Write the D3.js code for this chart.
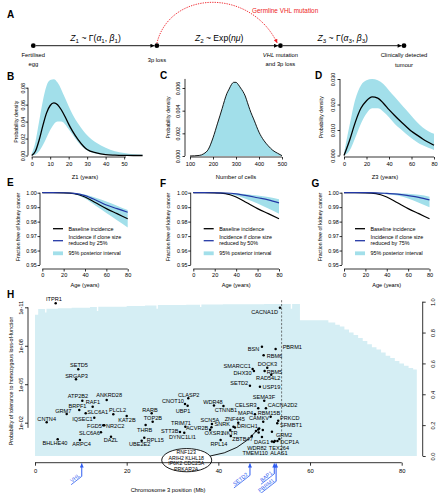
<!DOCTYPE html>
<html>
<head>
<meta charset="utf-8">
<script src="https://cdn.jsdelivr.net/npm/d3@7"></script>
<style>
body { margin: 0; background: #fff; }
svg { display: block; }
</style>
</head>
<body>
<svg id="fig" width="439" height="493"></svg>
<script>
// ---------- panel A : model stages
const stageLines = [["Fertilised", "egg"], ["3p loss"], ["*VHL* mutation", "and 3p loss"], ["Clinically detected", "tumour"]];
const stageFormulas = [
    [["Z", "i"], ["1", "s"], [" ~ Γ(", ""], ["α", "i"], ["1", "s"], [", ", ""], ["β", "i"], ["1", "s"], [")", ""]],
    [["Z", "i"], ["2", "s"], [" ~ Exp(", ""], ["nμ", "i"], [")", ""]],
    [["Z", "i"], ["3", "s"], [" ~ Γ(", ""], ["α", "i"], ["3", "s"], [", ", ""], ["β", "i"], ["3", "s"], [")", ""]]
];
const germlineText = "Germline VHL mutation";

// ---------- panel B : Z1 density
const bYears = [0, 2, 4, 6, 8, 10, 12, 14, 16, 18, 20, 22, 25, 28, 30, 35, 40, 45, 50, 55, 60];
const bMean  = [0, 0.005, 0.018, 0.035, 0.050, 0.059, 0.062, 0.060, 0.054, 0.046, 0.037, 0.029, 0.019, 0.011, 0.007, 0.003, 0.001, 0.0004, 0.0001, 0, 0];
const bHigh  = [0.002, 0.016, 0.040, 0.064, 0.082, 0.089, 0.090, 0.086, 0.078, 0.068, 0.058, 0.049, 0.038, 0.029, 0.024, 0.015, 0.009, 0.005, 0.003, 0.0015, 0.001];
const bLow   = [0, 0.001, 0.005, 0.012, 0.021, 0.030, 0.037, 0.040, 0.040, 0.037, 0.031, 0.025, 0.016, 0.009, 0.006, 0.002, 0.0006, 0.0002, 0, 0, 0];
const bXTicks = [0, 10, 20, 30, 40, 50];
const bYTicks = [0, 0.02, 0.04, 0.06, 0.08];

// ---------- panel C : number of cells
const cCells = [100, 140, 160, 180, 200, 220, 240, 250, 260, 270, 280, 290, 300, 310, 320, 330, 340, 350, 360, 380, 400, 420, 440, 460, 480, 500];
const cDens  = [0, 0.00005, 0.0002, 0.0006, 0.0016, 0.0029, 0.0042, 0.0049, 0.0055, 0.0059, 0.0063, 0.0065, 0.0065, 0.0063, 0.0060, 0.0057, 0.0053, 0.0047, 0.0041, 0.0031, 0.0021, 0.0014, 0.0009, 0.0005, 0.00025, 0.00003];
const cXTicks = [100, 200, 300, 400, 500];
const cYTicks = [0, 0.002, 0.004, 0.006];

// ---------- panel D : Z3 density
const dYears = [0, 5, 10, 15, 20, 25, 30, 35, 40, 45, 50, 55, 60, 65, 70, 75, 80];
const dMean  = [0, 0.006, 0.013, 0.0185, 0.0215, 0.023, 0.0225, 0.0205, 0.018, 0.0157, 0.0135, 0.0115, 0.0095, 0.008, 0.0065, 0.0052, 0.004];
const dHigh  = [0.001, 0.012, 0.022, 0.0275, 0.0295, 0.030, 0.0295, 0.028, 0.0255, 0.023, 0.0205, 0.018, 0.0155, 0.013, 0.011, 0.0095, 0.0085];
const dLow   = [0, 0.002, 0.007, 0.0125, 0.0165, 0.0185, 0.0185, 0.0172, 0.015, 0.0125, 0.0105, 0.0085, 0.0068, 0.0052, 0.004, 0.003, 0.0022];
const dXTicks = [0, 20, 40, 60, 80];
const dYTicks = [0, 0.01, 0.02, 0.03];

// ---------- panels E-G : fraction free of kidney cancer
const ages = [0, 10, 20, 30, 40, 50, 60, 70, 80];
const baseline = [1, 1, 0.9999, 0.9994, 0.997, 0.993, 0.989, 0.9855, 0.982];
const eReduced = [1, 1, 0.99995, 0.9996, 0.998, 0.995, 0.9915, 0.989, 0.9865];
const eHigh    = [1, 1, 1, 0.9998, 0.9988, 0.9965, 0.994, 0.991, 0.988];
const eLow     = [1, 1, 0.9998, 0.999, 0.996, 0.991, 0.986, 0.981, 0.976];
const fReduced = [1, 1, 0.99995, 0.9998, 0.9992, 0.998, 0.9965, 0.995, 0.993];
const fHigh    = [1, 1, 1, 1, 0.9996, 0.999, 0.998, 0.997, 0.9955];
const fLow     = [1, 1, 0.9999, 0.9993, 0.998, 0.9955, 0.9925, 0.989, 0.9855];
const gReduced = [1, 1, 1, 0.9999, 0.9995, 0.999, 0.998, 0.9968, 0.995];
const gHigh    = [1, 1, 1, 1, 1, 0.9997, 0.9992, 0.9985, 0.9972];
const gLow     = [1, 1, 1, 0.9997, 0.999, 0.998, 0.996, 0.993, 0.990];
const reductions = ["25%", "50%", "75%"];
const ageTicks = [0, 20, 40, 60, 80];
const fracTicks = [0.95, 0.96, 0.97, 0.98, 0.99, 1.00];

// ---------- panel H : chromosome 3p
const geneNames = ["ITPR1", "CNTN4", "BHLHE40", "GRM7", "SETD5", "SRGAP3", "ATP2B2", "BRPF1", "ARPC4", "RAF1",
    "SLC6A1", "IQSEC1", "ANKRD28", "PLCL2", "KAT2B", "FGD5", "NR2C2", "SLC6A6", "DAZL", "RARB",
    "TOP2B", "THRB", "RPL15", "UBE2E2", "CLASP2", "CNOT10", "UBP1", "TRIM71", "STT3B", "DYNC1LI1",
    "ACVR2B", "SCN5A", "OXSR1", "WDR48", "CTNNB1", "RPL14", "ZNF445", "SNRK", "NKTR", "ZBTB47",
    "DRICH1", "SETD2", "USP19", "SMARCC1", "DHX30", "RBM5", "RBM6", "BSN", "PBRM1", "DOCK3",
    "RAD54L2", "CACNA1D", "SEMA3F", "CELSR3", "CACNA2D2", "MAP4", "RBM15B", "CAMKV", "PRKCD", "SFMBT1",
    "GRM2", "DAG1", "WDR82", "TEX264", "TMEM110", "ALAS1", "DCP1A",
    "KLHL18", "CDC25A", "IP6K2", "PRKAR2A", "ARIH2", "RNF123"];
const geneMb = [4.51, 2.55, 4.95, 6.91, 9.44, 8.94, 10.32, 9.66, 9.81, 12.58,
    11.06, 12.93, 15.64, 17.08, 20.0, 14.9, 15.11, 14.39, 16.58, 25.45,
    25.67, 24.14, 23.84, 23.27, 33.44, 32.72, 33.3, 32.8, 31.63, 32.56,
    38.5, 38.6, 38.2, 39.04, 41.11, 40.5, 44.34, 43.3, 42.6, 42.7,
    43.62, 46.89, 49.07, 47.48, 47.76, 50.1, 49.88, 49.51, 52.5, 50.67,
    51.54, 53.44, 50.01, 48.7, 50.38, 47.98, 51.41, 49.79, 53.06, 52.85,
    51.69, 49.51, 52.3, 51.69, 52.89, 52.13, 53.3,
    47.3, 48.2, 48.7, 48.8, 48.9, 49.7];
// log10 of the probability of tolerance
const geneLogP = [-11.31, -2.03, -0.70, -2.68, -6.16, -5.38, -3.72, -2.99, -0.65, -3.25,
    -2.73, -2.39, -3.77, -2.65, -2.52, -1.80, -1.80, -1.25, -0.91, -2.73,
    -2.08, -1.82, -0.83, -0.60, -3.90, -3.46, -3.33, -1.69, -1.27, -1.22,
    -1.64, -1.90, -1.45, -3.34, -3.30, -0.65, -2.00, -1.69, -1.43, -0.96,
    -1.63, -4.89, -4.81, -6.19, -6.03, -6.03, -7.26, -7.93, -7.75, -6.29,
    -5.74, -10.97, -3.72, -3.12, -3.12, -2.65, -2.47, -2.08, -2.16, -1.95,
    -1.30, -0.88, -0.57, -0.53, -0.57, -0.49, -0.73,
    -0.96, -1.35, -1.47, -1.24, -1.55, -1.43];
// label placement: anchor, dx, dy (null = named in the ellipse)
const labelPlace = [["m", -1.7, -2.3], ["m", 0, -1.8], ["m", -2.7, 5.6], ["m", -3.4, -1.3], ["m", 0.7, -2.1], ["m", 0.5, -1.6], ["m", -4.3, -2.5], ["m", -1.8, -2.1], ["m", 1.7, 5.5], ["m", 0.3, -2.2],
    ["s", 1.6, 0.6], ["e", -1.6, 3.8], ["m", 2.5, -2.8], ["m", 4.2, -2.1], ["m", 0.3, 6.2], ["e", -1.3, 2.6], ["s", 1.7, 2.6], ["e", -1.0, 2.2], ["m", -0.2, 5.5], ["m", -1.7, -1.3],
    ["m", 0.2, -1.2], ["m", -1.0, 6.5], ["s", 2.4, 3.8], ["m", -2.0, 5.5], ["m", 0.5, -1.3], ["e", -1.0, -0.5], ["m", -4.7, 7.2], ["m", -4.4, -1.8], ["e", -1.5, 0.5], ["m", -1.8, 6.2],
    ["e", -3.2, 2.2], ["m", -2.0, -2.0], ["m", 4.0, 5.4], ["m", -1.0, -1.3], ["m", 2.4, 5.5], ["m", -1.7, 6.2], ["m", -3.5, -1.6], ["e", -3.5, -0.2], ["m", -0.3, 5.2], ["s", 1.5, 4.5],
    ["s", 2.0, 0.7], ["e", -1.7, -0.8], ["s", 2.7, 2.2], ["e", -1.7, -0.8], ["e", -2.3, 3.9], ["s", 2.0, 3.2], ["s", 3.0, 2.9], ["e", -2.7, 4.2], ["s", 7.0, -0.1], ["m", 0.2, -1.5],
    ["m", -3.0, 5.2], ["e", -2.0, 6.8], ["m", -0.3, -1.8], ["e", -1.5, -1.1], ["s", 1.7, -1.1], ["e", -1.7, 0.6], ["m", -1.7, -1.8], ["m", -4.3, -1.5], ["s", 1.7, -0.8], ["s", 2.7, 3.2],
    ["s", 4.0, 5.5], ["m", -0.3, 6.9], ["e", -8.0, 8.5], ["m", 7.0, 8.4], ["e", -9.5, 13.9], ["m", 5.0, 12.9], ["s", 1.0, 5.5],
    null, null, null, null, null, null];
const ellipseGenes = ["RNF123", "ARIH2  KLHL18", "IP6K2  CDC25A", "PRKAR2A"];

// tolerance step curve along the arm (right axis)
const stepMb  = [0, 0.7, 2.2, 2.5, 5, 8, 12, 13.5, 13.8, 16, 20, 24, 26.5, 26.8, 28, 33, 36, 36.3, 41, 46, 50, 55.8, 56.1,
    57.8, 64, 65.5, 66.5, 67.5, 68.5, 69.5, 70.5, 71.5, 72.5, 73.5, 74.5, 75.5, 76.5, 77.5, 78.5, 79.5, 80.5, 81.5, 82.5, 83.3];
const stepVal = [0.915, 0.952, 0.93, 0.955, 0.957, 0.96, 0.965, 0.94, 0.967, 0.968, 0.972, 0.975, 0.955, 0.978, 0.978, 0.98, 0.965, 0.982, 0.983, 0.984, 0.985, 0.955, 0.985,
    0.88, 0.865, 0.85, 0.84, 0.82, 0.80, 0.785, 0.765, 0.745, 0.725, 0.705, 0.69, 0.67, 0.65, 0.635, 0.615, 0.60, 0.585, 0.57, 0.56, 0.56];
const driverGenes = ["VHL", "SETD2", "BAP1", "PBRM1"];
const driverMb = [10.2, 46.9, 52.2, 52.6];
const driverDrop = [13, 12, 10.5, 18];
const dashedMb = 53.8;
const posTicks = [0, 20, 40, 60, 80];
const tolTicks = [1e-11, 1e-8, 1e-5, 1e-2];
const propTicks = [0, 0.2, 0.4, 0.6, 0.8, 1.0];

// ---------- style
const FONT = '"Liberation Sans", Arial, Helvetica, sans-serif';
const BAND = '#a2dfea';
const HFILL = '#d5eef4';
const NAVY = '#2338a6';
const LINKBLUE = '#2f5cf0';

const svg = d3.select('#fig').attr('font-family', FONT);
const defs = svg.append('defs');

function marker(id, color) {
    defs.append('marker')
        .attr('id', id)
        .attr('viewBox', '0 0 10 10')
        .attr('refX', 10).attr('refY', 5)
        .attr('markerUnits', 'userSpaceOnUse')
        .attr('markerWidth', 5).attr('markerHeight', 4)
        .attr('orient', 'auto')
        .append('path').attr('d', 'M0,0L10,5L0,10z').attr('fill', color);
}
marker('arrK', '#000');
marker('arrR', '#ee1c24');
marker('arrB', LINKBLUE);

function letter(t, x, y) {
    svg.append('text').attr('x', x).attr('y', y)
        .attr('font-size', 10).attr('font-weight', 'bold').text(t);
}

function richText(sel, segs, size) {
    let shifted = false;
    segs.forEach(s => {
        const t = sel.append('tspan').text(s[0]);
        if (s[1] == 'i') t.attr('font-style', 'italic');
        if (s[1] == 's') {
            t.attr('font-size', size * 0.72).attr('dy', size * 0.22);
            shifted = true;
        } else if (shifted) {
            t.attr('dy', -size * 0.22);
            shifted = false;
        }
    });
}

function starText(sel, str) {
    str.split('*').forEach((part, i) => {
        if (part == '') return;
        const t = sel.append('tspan').text(part);
        if (i % 2 == 1) t.attr('font-style', 'italic');
    });
}

function styleAxis(g, fs) {
    g.attr('font-family', FONT).attr('font-size', fs);
    g.select('.domain').remove();
    g.selectAll('.tick line').attr('stroke', '#000').attr('stroke-width', 0.8);
    g.selectAll('.tick text').attr('fill', '#000');
}

function line(x1, y1, x2, y2) {
    return svg.append('line').attr('x1', x1).attr('y1', y1).attr('x2', x2).attr('y2', y2)
        .attr('stroke', '#000').attr('stroke-width', 0.8);
}

function rotateTicks(g, off) {
    g.selectAll('.tick text')
        .attr('transform', 'rotate(-90)')
        .attr('x', 0).attr('y', off).attr('dy', 0)
        .attr('text-anchor', 'middle');
}

// ================= A
letter('A', 7, 18);
const timeY = 45.7;
const stageX = d3.scalePoint().domain(d3.range(stageLines.length)).range([33.3, 404]);
d3.range(stageLines.length - 1).forEach(i => {
    svg.append('line')
        .attr('x1', stageX(i) + 2.5).attr('y1', timeY)
        .attr('x2', stageX(i + 1) - 2.4).attr('y2', timeY)
        .attr('stroke', '#000').attr('stroke-width', 0.9)
        .attr('marker-end', 'url(#arrK)');
    const t = svg.append('text')
        .attr('x', (stageX(i) + stageX(i + 1)) / 2 + 0.5).attr('y', timeY - 4.3)
        .attr('text-anchor', 'middle').attr('font-size', 8.6);
    richText(t, stageFormulas[i], 8.6);
});
svg.selectAll('.stage').data(stageLines).enter().append('circle')
    .attr('cx', (d, i) => stageX(i)).attr('cy', timeY).attr('r', 2.4).attr('fill', '#000');
const stageLabelY = [56.5, 62, 56.5, 57];
stageLines.forEach((lines, i) => {
    lines.forEach((ln, j) => {
        const t = svg.append('text').attr('x', stageX(i)).attr('y', stageLabelY[i] + j * 9.7)
            .attr('text-anchor', 'middle').attr('font-size', 5.8);
        starText(t, ln);
    });
});
const sx1 = stageX(1), sx2 = stageX(2);
const arc = d3.path();
arc.moveTo(sx1, timeY - 2.4);
arc.bezierCurveTo(sx1 + 13, timeY - 56, sx2 - 30, timeY - 58, sx2 - 3.2, timeY - 2.6);
svg.append('path')
    .attr('d', arc.toString())
    .attr('fill', 'none').attr('stroke', '#ee1c24').attr('stroke-width', 0.9)
    .attr('stroke-dasharray', '1.3,1.1').attr('marker-end', 'url(#arrR)');
svg.append('text').attr('x', 252).attr('y', 13.3).attr('font-size', 6.4)
    .attr('fill', '#ee1c24').text(germlineText);

// ================= B C D
const densPanels = [
    {l: 'B', lx: 7, ly: 80.3, xs: bYears, mean: bMean, hi: bHigh, lo: bLow, xd: [0, 60], xr: [31.7, 142.6], yd: [0, 0.08], yr: [155.5, 87.7],
        ax: 28, ay: 157, xt: bXTicks, xEnd: 51, yt: bYTicks, fmt: '.2f', yTop: 0.08, tlx: 22.7, ttx: 16, ttl: 'Z1 (years)', xtx: 85},
    {l: 'C', lx: 160, ly: 79.3, xs: cCells, mean: cDens, hi: null, lo: null, xd: [100, 500], xr: [190, 282], yd: [0, 0.006], yr: [156, 88],
        ax: 185, ay: 157, xt: cXTicks, xEnd: 500, yt: cYTicks, fmt: '.3f', yTop: 0.0068, tlx: 178.3, ttx: 168, ttl: 'Number of cells', xtx: 236},
    {l: 'D', lx: 315, ly: 79.3, xs: dYears, mean: dMean, hi: dHigh, lo: dLow, xd: [0, 80], xr: [344, 434], yd: [0, 0.03], yr: [155.5, 79],
        ax: 340, ay: 157, xt: dXTicks, xEnd: 80, yt: dYTicks, fmt: '.3f', yTop: 0.03, tlx: 332.7, ttx: 321, ttl: 'Z3 (years)', xtx: 385}
];

densPanels.forEach(p => {
    letter(p.l, p.lx, p.ly);
    const x = d3.scaleLinear().domain(p.xd).range(p.xr);
    const y = d3.scaleLinear().domain(p.yd).range(p.yr);
    const pts = p.xs.map((v, i) => ({x: v, m: p.mean[i], h: p.hi ? p.hi[i] : p.mean[i], lo: p.lo ? p.lo[i] : 0}));
    const area = d3.area().x(d => x(d.x)).y0(d => y(d.lo)).y1(d => y(d.h)).curve(d3.curveMonotoneX);
    svg.append('path').datum(pts).attr('d', area).attr('fill', BAND);
    const ln = d3.line().x(d => x(d.x)).y(d => y(d.m)).curve(d3.curveMonotoneX);
    svg.append('path').datum(pts).attr('d', ln).attr('fill', 'none').attr('stroke', '#000')
        .attr('stroke-width', p.hi ? 1.3 : 0.9);

    const gx = svg.append('g').attr('transform', `translate(0,${p.ay})`)
        .call(d3.axisBottom(x).tickValues(p.xt).tickFormat(d3.format('d')).tickSize(2.5).tickPadding(2.5));
    styleAxis(gx, 5.6);
    line(x(p.xd[0]), p.ay, x(p.xEnd), p.ay);

    const gy = svg.append('g').attr('transform', `translate(${p.ax},0)`)
        .call(d3.axisLeft(y).tickValues(p.yt).tickFormat(d3.format(p.fmt)).tickSize(2.5));
    styleAxis(gy, 5.4);
    rotateTicks(gy, -(p.ax - p.tlx) + 1.9);
    line(p.ax, y(0), p.ax, y(p.yTop));

    svg.append('text').attr('transform', `translate(${p.ttx + 1.8},${(y(0) + y(p.yTop)) / 2}) rotate(-90)`)
        .attr('text-anchor', 'middle').attr('font-size', 5.2).text('Probability density');
    svg.append('text').attr('x', p.xtx).attr('y', 178.7).attr('text-anchor', 'middle')
        .attr('font-size', 5.8).text(p.ttl);
});

// ================= E F G
const survPanels = [
    {l: 'E', lx: 7, ly: 186, ax: 40, xr: [42.3, 127.7], red: eReduced, hi: eHigh, lo: eLow},
    {l: 'F', lx: 160, ly: 187, ax: 190.7, xr: [193.3, 279], red: fReduced, hi: fHigh, lo: fLow},
    {l: 'G', lx: 311.5, ly: 187, ax: 342, xr: [344, 429.5], red: gReduced, hi: gHigh, lo: gLow}
];

survPanels.forEach((p, k) => {
    letter(p.l, p.lx, p.ly);
    const x = d3.scaleLinear().domain([0, 80]).range(p.xr);
    const y = d3.scaleLinear().domain([0.95, 1.0]).range([265, 192.7]);
    const pts = ages.map((a, i) => ({a: a, b: baseline[i], r: p.red[i], h: p.hi[i], lo: p.lo[i]}));
    svg.append('path').datum(pts)
        .attr('d', d3.area().x(d => x(d.a)).y0(d => y(d.lo)).y1(d => y(d.h)).curve(d3.curveMonotoneX))
        .attr('fill', BAND);
    svg.append('path').datum(pts)
        .attr('d', d3.line().x(d => x(d.a)).y(d => y(d.b)).curve(d3.curveMonotoneX))
        .attr('fill', 'none').attr('stroke', '#000').attr('stroke-width', 1.2);
    svg.append('path').datum(pts)
        .attr('d', d3.line().x(d => x(d.a)).y(d => y(d.r)).curve(d3.curveMonotoneX))
        .attr('fill', 'none').attr('stroke', NAVY).attr('stroke-width', 1.2);

    const gx = svg.append('g').attr('transform', 'translate(0,269)')
        .call(d3.axisBottom(x).tickValues(ageTicks).tickFormat(d3.format('d')).tickSize(2.5).tickPadding(1.5));
    styleAxis(gx, 5.6);
    line(x(0), 269, x(80), 269);

    const gy = svg.append('g').attr('transform', `translate(${p.ax},0)`)
        .call(d3.axisLeft(y).tickValues(fracTicks).tickFormat(d3.format('.2f')).tickSize(2.5).tickPadding(0.8));
    styleAxis(gy, 5.4);
    line(p.ax, y(0.95), p.ax, y(1.0));

    svg.append('text').attr('transform', `translate(${p.ax - 20.5},227) rotate(-90)`)
        .attr('text-anchor', 'middle').attr('font-size', 5.2).text('Fraction free of kidney cancer');
    svg.append('text').attr('x', (p.xr[0] + p.xr[1]) / 2).attr('y', 287)
        .attr('text-anchor', 'middle').attr('font-size', 5.6).text('Age (years)');

    // legend
    const lx = p.ax + 13, tx = p.ax + 28.5;
    line(lx, 228.7, lx + 10, 228.7).attr('stroke-width', 1.3);
    svg.append('line').attr('x1', lx).attr('x2', lx + 10).attr('y1', 240.7).attr('y2', 240.7)
        .attr('stroke', NAVY).attr('stroke-width', 1.3);
    svg.append('rect').attr('x', lx).attr('y', 251.4).attr('width', 10).attr('height', 3.8).attr('fill', BAND);
    const legTexts = ['Baseline incidence', 'Incidence if clone size', 'reduced by ' + reductions[k], '95% posterior interval'];
    const legY = [231, 238.8, 245.4, 255.3];
    legTexts.forEach((t, i) => {
        svg.append('text').attr('x', tx).attr('y', legY[i]).attr('font-size', 5.4).text(t);
    });
});

// ================= H
letter('H', 7, 298);
const hx = d3.scaleLinear().domain([0, 80]).range([35, 401.7]);
const hyL = d3.scaleLog().domain([1e-11, 1e-2]).range([307.3, 422.7]);
const hyR = d3.scaleLinear().domain([0, 1]).range([456, 301.7]);

const steps = stepMb.map((m, i) => ({m: m, v: stepVal[i]}));
svg.append('path').datum(steps)
    .attr('d', d3.area().x(d => hx(d.m)).y0(hyR(0)).y1(d => hyR(d.v)).curve(d3.curveStepAfter))
    .attr('fill', HFILL);

svg.append('line')
    .attr('x1', hx(dashedMb)).attr('x2', hx(dashedMb))
    .attr('y1', hyR(1.01)).attr('y2', hyR(0))
    .attr('stroke', '#444').attr('stroke-width', 0.7).attr('stroke-dasharray', '2.2,1.6');

// ellipse with the clustered genes
const ellC = {m: 33.1, v: -0.027};
svg.append('ellipse').attr('cx', hx(ellC.m)).attr('cy', hyR(ellC.v))
    .attr('rx', 25).attr('ry', 11.6)
    .attr('fill', '#fff').attr('stroke', '#000').attr('stroke-width', 0.9);
ellipseGenes.forEach((t, i) => {
    svg.append('text').attr('x', hx(ellC.m) - 0.5).attr('y', hyR(ellC.v) - 6.2 + i * 5.75)
        .attr('text-anchor', 'middle').attr('font-size', 5.2).text(t);
});
const curve = d3.path();
curve.moveTo(hx(38.2), hyR(0));
curve.quadraticCurveTo(hx(44.7), hyR(0.026), hx(48.6), hyR(0.172));
svg.append('path')
    .attr('d', curve.toString())
    .attr('fill', 'none').attr('stroke', '#000').attr('stroke-width', 0.9);

// gene points and labels
const genes = geneNames.map((n, i) => ({name: n, mb: geneMb[i], p: Math.pow(10, geneLogP[i]), lab: labelPlace[i]}));
svg.append('g').selectAll('circle').data(genes).enter().append('circle')
    .attr('cx', d => hx(d.mb)).attr('cy', d => hyL(d.p)).attr('r', 1.25).attr('fill', '#000');
const anchors = {m: 'middle', s: 'start', e: 'end'};
svg.append('g').selectAll('text').data(genes.filter(d => d.lab)).enter().append('text')
    .attr('x', d => hx(d.mb) + d.lab[1]).attr('y', d => hyL(d.p) + d.lab[2])
    .attr('text-anchor', d => anchors[d.lab[0]])
    .attr('font-size', 5.6).text(d => d.name);

// axes of H
const gxH = svg.append('g').attr('transform', 'translate(0,462.7)')
    .call(d3.axisBottom(hx).tickValues(posTicks).tickFormat(d3.format('d')).tickSize(3).tickPadding(3));
styleAxis(gxH, 5.8);
line(hx(0), 462.7, hx(80), 462.7);
svg.append('text').attr('x', 168).attr('y', 492).attr('text-anchor', 'middle').attr('font-size', 5.8)
    .text('Chromosome 3 position (Mb)');

const gyL = svg.append('g').attr('transform', 'translate(28,0)')
    .call(d3.axisLeft(hyL).tickValues(tolTicks).tickFormat(d => '1e-' + String(-Math.round(Math.log10(d))).padStart(2, '0')).tickSize(3));
styleAxis(gyL, 5.6);
rotateTicks(gyL, -5.4);
line(28, hyL(1e-11), 28, hyL(Math.pow(10, -1.6)));
svg.append('text').attr('transform', `translate(12.8,381) rotate(-90)`)
    .attr('text-anchor', 'middle').attr('font-size', 5.3)
    .text('Probability of tolerance to homozygous loss-of-function');

const gyR = svg.append('g').attr('transform', 'translate(422.7,0)')
    .call(d3.axisRight(hyR).tickValues(propTicks).tickFormat(d3.format('.1f')).tickSize(3));
styleAxis(gyR, 5.6);
gyR.selectAll('.tick text').attr('transform', 'rotate(-90)').attr('x', 0).attr('y', 12.4).attr('dy', 0)
    .attr('text-anchor', 'middle');
line(422.7, hyR(0), 422.7, hyR(1));

// driver gene arrows
driverGenes.forEach((g, i) => {
    const x = hx(driverMb[i]);
    const top = 463.4, elbow = top + driverDrop[i];
    svg.append('line').attr('x1', x).attr('x2', x).attr('y1', elbow).attr('y2', top)
        .attr('stroke', LINKBLUE).attr('stroke-width', 1).attr('marker-end', 'url(#arrB)');
    const t = svg.append('text')
        .attr('transform', `translate(${x - 1.5},${elbow - 0.2}) rotate(-38)`)
        .attr('text-anchor', 'end').attr('font-size', 5.4).attr('fill', LINKBLUE).text(g);
    const len = t.node().getComputedTextLength() + 3;
    const ang = 38 * Math.PI / 180;
    svg.append('line').attr('x1', x).attr('y1', elbow)
        .attr('x2', x - len * Math.cos(ang)).attr('y2', elbow + len * Math.sin(ang))
        .attr('stroke', LINKBLUE).attr('stroke-width', 0.8);
});
</script>
</body>
</html>
